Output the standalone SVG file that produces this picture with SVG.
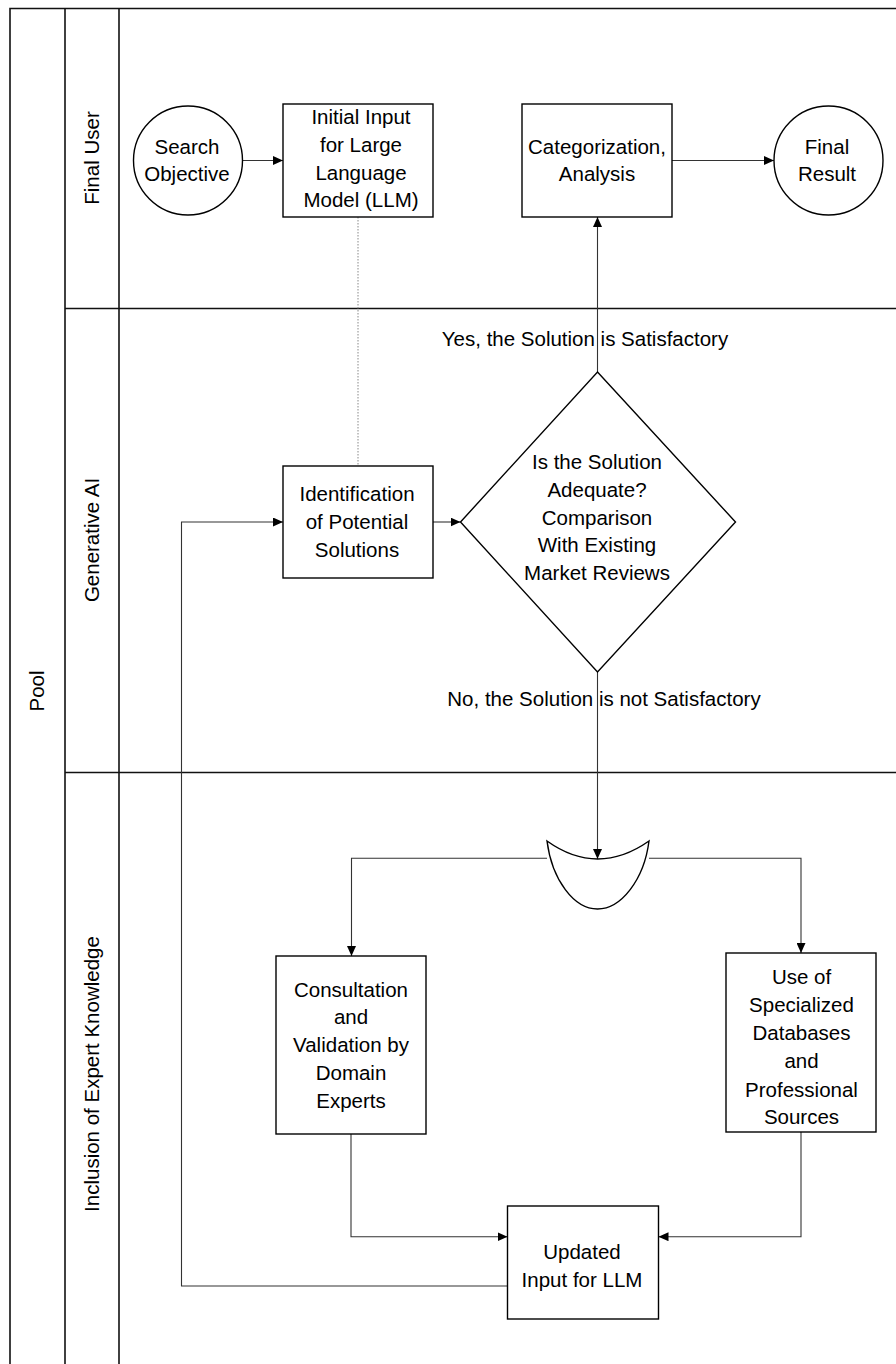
<svg xmlns="http://www.w3.org/2000/svg" width="896" height="1364" viewBox="0 0 896 1364">
<style>
  text { font-family: "Liberation Sans", Arial, sans-serif; font-size: 20.5px; fill: #000; text-anchor: middle; }
  .pool { stroke: #111; stroke-width: 1.6; fill: none; }
  .shape { stroke: #000; stroke-width: 1.4; fill: #fff; }
  .conn { stroke: #333; stroke-width: 1.1; fill: none; }
  .dot { stroke: #888; stroke-width: 1; fill: none; stroke-dasharray: 1.5 1.5; }
</style>
<defs>
  <marker id="arr" markerUnits="userSpaceOnUse" markerWidth="10" markerHeight="9" refX="10" refY="4.5" orient="auto">
    <path d="M0,0 L10,4.5 L0,9 z" fill="#000"/>
  </marker>
</defs>
<rect width="896" height="1364" fill="#fff"/>

<g id="pool">
  <path class="pool" d="M10,1364 V8.5 H896"/>
  <line class="pool" x1="65" y1="8.5" x2="65" y2="1364"/>
  <line class="pool" x1="119" y1="8.5" x2="119" y2="1364"/>
  <line class="pool" x1="65" y1="308.5" x2="896" y2="308.5"/>
  <line class="pool" x1="65" y1="772.5" x2="896" y2="772.5"/>
  <text transform="translate(43.5,691) rotate(-90)">Pool</text>
  <text transform="translate(98.5,158) rotate(-90)">Final User</text>
  <text transform="translate(98.5,540) rotate(-90)">Generative AI</text>
  <text transform="translate(98.5,1074) rotate(-90)">Inclusion of Expert Knowledge</text>
</g>

<g id="connectors">
  <line class="conn" x1="242.5" y1="160.5" x2="283" y2="160.5" marker-end="url(#arr)"/>
  <line class="conn" x1="672" y1="160.5" x2="774" y2="160.5" marker-end="url(#arr)"/>
  <line class="dot" x1="358" y1="217" x2="358" y2="466"/>
  <line class="conn" x1="433" y1="522" x2="460.5" y2="522" marker-end="url(#arr)"/>
  <line class="conn" x1="597.5" y1="372" x2="597.5" y2="217" marker-end="url(#arr)"/>
  <line class="conn" x1="597.5" y1="672" x2="597.5" y2="859" marker-end="url(#arr)"/>
  <polyline class="conn" points="547,858.3 351.5,858.3 351.5,956" marker-end="url(#arr)"/>
  <polyline class="conn" points="649,858.3 801,858.3 801,953" marker-end="url(#arr)"/>
  <polyline class="conn" points="351,1134 351,1236.7 507.5,1236.7" marker-end="url(#arr)"/>
  <polyline class="conn" points="801,1132 801,1236.7 658.5,1236.7" marker-end="url(#arr)"/>
  <polyline class="conn" points="507.5,1286 181.5,1286 181.5,522 283,522" marker-end="url(#arr)"/>
  <text x="585" y="346">Yes, the Solution is Satisfactory</text>
  <text x="604" y="706">No, the Solution is not Satisfactory</text>
</g>

<g id="search-objective">
  <circle class="shape" cx="188" cy="160.5" r="54.5"/>
  <text x="187" y="153.5">Search</text>
  <text x="187" y="181">Objective</text>
</g>

<g id="initial-input">
  <rect class="shape" x="283" y="104" width="150" height="113"/>
  <text x="361" y="124">Initial Input</text>
  <text x="361" y="152">for Large</text>
  <text x="361" y="180">Language</text>
  <text x="361" y="207">Model (LLM)</text>
</g>

<g id="categorization">
  <rect class="shape" x="522" y="104" width="150" height="113"/>
  <text x="597" y="153.5">Categorization,</text>
  <text x="597" y="181">Analysis</text>
</g>

<g id="final-result">
  <circle class="shape" cx="828.5" cy="160.5" r="54.5"/>
  <text x="827" y="153.5">Final</text>
  <text x="827" y="181">Result</text>
</g>

<g id="identification">
  <rect class="shape" x="283" y="466" width="150" height="112"/>
  <text x="357" y="501">Identification</text>
  <text x="357" y="529">of Potential</text>
  <text x="357" y="557">Solutions</text>
</g>

<g id="decision">
  <polygon class="shape" points="597.5,372 735.5,522 597.5,672 460.5,522"/>
  <text x="597" y="469">Is the Solution</text>
  <text x="597" y="497">Adequate?</text>
  <text x="597" y="524.5">Comparison</text>
  <text x="597" y="552">With Existing</text>
  <text x="597" y="580">Market Reviews</text>
</g>

<g id="gateway">
  <path class="shape" d="M547,841 Q597.5,877 649,841 C644,880 621,909 597.5,909 C574,909 552,880 547,841 Z"/>
</g>

<g id="consultation">
  <rect class="shape" x="276" y="956" width="150" height="178"/>
  <text x="351" y="996.5">Consultation</text>
  <text x="351" y="1024.3">and</text>
  <text x="351" y="1052.1">Validation by</text>
  <text x="351" y="1079.9">Domain</text>
  <text x="351" y="1107.7">Experts</text>
</g>

<g id="databases">
  <rect class="shape" x="726" y="953" width="150" height="179"/>
  <text x="801.5" y="983.5">Use of</text>
  <text x="801.5" y="1011.8">Specialized</text>
  <text x="801.5" y="1040">Databases</text>
  <text x="801.5" y="1068.4">and</text>
  <text x="801.5" y="1096.7">Professional</text>
  <text x="801.5" y="1124">Sources</text>
</g>

<g id="updated-input">
  <rect class="shape" x="507.5" y="1206" width="151" height="113"/>
  <text x="582" y="1259">Updated</text>
  <text x="582" y="1287">Input for LLM</text>
</g>
</svg>
